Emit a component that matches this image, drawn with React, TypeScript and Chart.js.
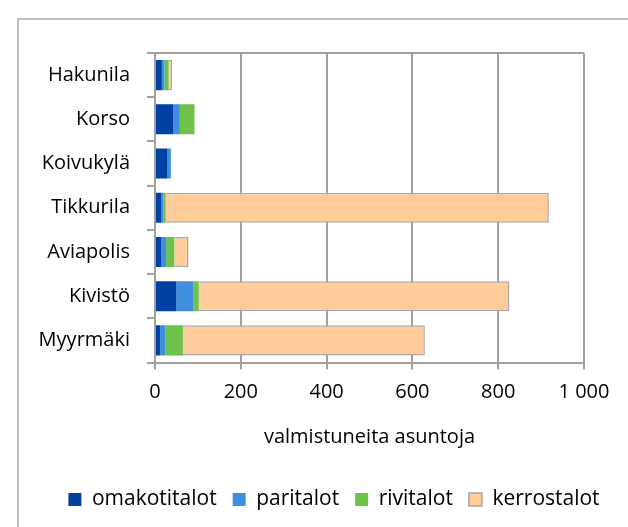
import React, { useEffect, useRef } from 'react';
import { Chart, registerables } from 'chart.js';

Chart.register(...registerables);

const categories = ['Hakunila', 'Korso', 'Koivukylä', 'Tikkurila', 'Aviapolis', 'Kivistö', 'Myyrmäki'];
const omakotitalot = [16, 43, 29, 15, 14, 50, 12];
const paritalot = [6, 15, 8, 5, 12, 40, 12];
const rivitalot = [10, 34, 0, 5, 19, 12, 41];
const kerrostalot = [8, 0, 0, 893, 33, 724, 564];
const seriesNames = ['omakotitalot', 'paritalot', 'rivitalot', 'kerrostalot'];
const xMin = 0;
const xMax = 1000;
const xStep = 200;
const xAxisTitle = 'valmistuneita asuntoja';

const FONT = "'Open Sans', sans-serif";
const GRID = '#a0a0a0';

const formatThousands = (v: number) => String(v).replace(/\B(?=(\d{3})+(?!\d))/g, ' ');

const legendShift = {
  id: 'legendShift',
  afterLayout(chart: any) {
    const l = chart.legend;
    if (l) {
      l.left += 42;
      l.right += 42;
    }
  },
};

export default function App() {
  const ref = useRef<HTMLCanvasElement | null>(null);

  useEffect(() => {
    if (!ref.current) return;
    const chart = new Chart(ref.current, {
      type: 'bar',
      data: {
        labels: categories,
        datasets: [
          { label: seriesNames[0], data: omakotitalot, backgroundColor: '#0041A3', borderWidth: 0 },
          { label: seriesNames[1], data: paritalot, backgroundColor: '#3F8FDE', borderWidth: 0 },
          { label: seriesNames[2], data: rivitalot, backgroundColor: '#6CC24A', borderWidth: 0 },
          { label: seriesNames[3], data: kerrostalot, backgroundColor: '#FFCC99', borderColor: '#a6a6a6', borderWidth: 1.5 },
        ],
      },
      options: {
        indexAxis: 'y',
        animation: false,
        responsive: false,
        datasets: { bar: { categoryPercentage: 1, barPercentage: 0.68 } },
        layout: { padding: { top: 53, right: 44, bottom: 7, left: 0 } },
        scales: {
          x: {
            stacked: true,
            min: xMin,
            max: xMax,
            ticks: {
              stepSize: xStep,
              padding: 11,
              color: '#000',
              font: { family: FONT, size: 20 },
              callback: (v: any) => formatThousands(Number(v)),
            },
            grid: { color: GRID, lineWidth: 2, tickLength: 7, tickColor: GRID },
            border: { display: true, color: GRID, width: 2 },
            title: {
              display: true,
              text: xAxisTitle,
              color: '#000',
              font: { family: FONT, size: 20 },
              padding: { top: 0, bottom: 24 },
            },
            afterFit: (s: any) => { s.height = 110.5; },
          },
          y: {
            stacked: true,
            ticks: { padding: 17, color: '#000', font: { family: FONT, size: 20 } },
            grid: {
              offset: true,
              color: (ctx: any) => (ctx.index === 0 ? GRID : 'rgba(0,0,0,0)'),
              lineWidth: 2,
              tickLength: 8,
              tickColor: GRID,
            },
            border: { display: true, color: GRID, width: 2 },
            afterFit: (s: any) => { s.width = 155; },
          },
        },
        plugins: {
          legend: {
            position: 'bottom',
            labels: {
              boxWidth: 13,
              boxHeight: 13,
              padding: 16,
              color: '#000',
              font: { family: FONT, size: 21 },
            },
          },
          tooltip: { enabled: false },
        },
      } as any,
      plugins: [legendShift],
    });
    return () => chart.destroy();
  }, []);

  return (
    <div style={{ position: 'fixed', left: 0, top: 0, width: 628, height: 527, overflow: 'hidden', background: '#fff' }}>
      <div
        style={{
          position: 'absolute',
          left: 17,
          top: 18,
          width: 800,
          height: 800,
          borderLeft: '2px solid #c0c0c0',
          borderTop: '2px solid #c0c0c0',
        }}
      />
      <canvas ref={ref} width={628} height={527} style={{ position: 'absolute', left: 0, top: 0 }} />
    </div>
  );
}
